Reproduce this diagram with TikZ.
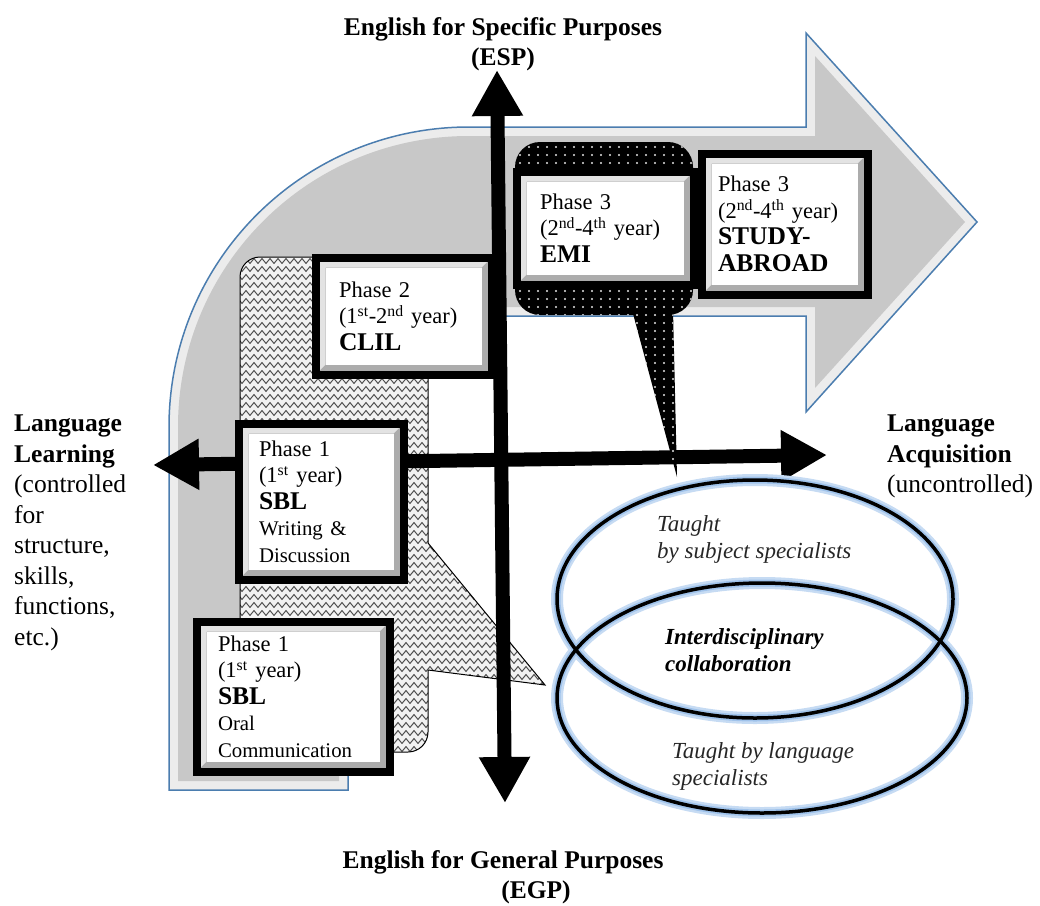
\documentclass[tikz,border=0pt]{standalone}
\usepackage{fontspec}
\setmainfont{Liberation Serif}
\usetikzlibrary{arrows.meta,decorations.pathmorphing}

\definecolor{bentgrey}{RGB}{200,200,200}
\definecolor{bentedge}{RGB}{75,125,175}
\definecolor{glowblue}{RGB}{160,195,235}
\definecolor{wavegrey}{RGB}{80,80,80}

\newcommand{\phasefont}{\fontsize{22.5}{26.5}\selectfont}
\newcommand{\namefont}{\bfseries\fontsize{25.5}{26.5}\selectfont}
\newcommand{\skillfont}{\fontsize{20.8}{26.5}\selectfont}
\newcommand{\labelfont}{\fontsize{25.5}{30.5}\selectfont}
\newcommand{\ovalfont}{\itshape\fontsize{23}{27}\selectfont}

\begin{document}
\begin{tikzpicture}[x=1pt, y=-1pt,
    bevel/.style={path picture={
        \fill[gray!65] (path picture bounding box.south west) rectangle (path picture bounding box.north east);
        \fill[gray!22] (path picture bounding box.south west) -- (path picture bounding box.north west)
            -- (path picture bounding box.north east) -- ([shift={(-10pt,-10pt)}]path picture bounding box.north east)
            -- ([shift={(10pt,-10pt)}]path picture bounding box.north west) -- ([shift={(10pt,10pt)}]path picture bounding box.south west) -- cycle;
        \fill[white] ([shift={(10pt,-10pt)}]path picture bounding box.north west) rectangle ([shift={(-10pt,10pt)}]path picture bounding box.south east);
    }},
    phase/.style={rectangle, draw=black, line width=8pt, inner sep=0pt, align=left, font=\phasefont, bevel},
    axis/.style={line width=14pt, {Triangle[length=46pt,width=48pt]}-{Triangle[length=46pt,width=48pt]}},
    wave/.style={wavegrey, line width=1pt, decorate, decoration={zigzag, segment length=8pt, amplitude=2.4pt}},
    glow/.style={glowblue!60, line width=12pt},
    innerglow/.style={glowblue, line width=7pt},
    oval/.style={black, line width=3.5pt},
    textlabel/.style={font=\labelfont, align=left, anchor=north west, inner sep=0pt}
]
\useasboundingbox (0,0) rectangle (1040,905);

% Bent arrow in the background
\path[fill=gray!15, draw=bentedge, line width=1.5pt] (169,790) -- (169,427) .. controls (169,261) and (303,127) .. (469,127)
    -- (806,127) -- (806,33) -- (977,222) -- (806,412) -- (806,316) -- (348,316) -- (348,790) -- cycle;
\fill[bentgrey] (178,781) -- (178,427) .. controls (178,266) and (308,136) .. (469,136)
    -- (815,136) -- (815,56) -- (965,222) -- (815,388) -- (815,307) -- (339,307) -- (339,781) -- cycle;

% Wavy callout behind phase 1 and 2
\begin{scope}
  \clip[rounded corners=20pt] (240,257) rectangle (428,752);
  \fill[gray!10] (230,250) rectangle (560,760);
  \foreach \y in {261,269,...,749}
    \draw[wave] (236,\y) -- (550,\y);
\end{scope}
\begin{scope}
  \clip (428,543) -- (545,685) -- (428,670) -- cycle;
  \fill[gray!10] (420,530) rectangle (560,700);
  \foreach \y in {541,549,...,685}
    \draw[wave] (236,\y) -- (550,\y);
\end{scope}
\draw[line width=1pt, rounded corners=20pt] (428,543) -- (428,257) -- (240,257) -- (240,752) -- (428,752) -- (428,670);
\draw[line width=1pt] (428,543) -- (545,685) -- (428,670);

% Axes
\coordinate (espTip) at (497,70);
\coordinate (egpTip) at (505,803);
\coordinate (learningTip) at (153,465);
\coordinate (acquisitionTip) at (827,455);
\draw[axis] (learningTip) -- (acquisitionTip);
\draw[axis] (espTip) -- (egpTip);

% Dotted callout behind EMI
\fill[rounded corners=25pt] (515,142) rectangle (693,315);
\fill (632,310) -- (673,310) -- (677,477) -- cycle;
\begin{scope}
  \clip[rounded corners=25pt] (515,142) rectangle (693,315);
  \foreach \x in {520,529,...,691}
    \foreach \y in {147,155,...,315}
      \fill[gray!20] (\x,\y) circle (1.1pt);
\end{scope}
\begin{scope}
  \clip (632,315) -- (673,315) -- (677,477) -- cycle;
  \foreach \x in {628,637,...,682}
    \foreach \y in {315,323,...,475}
      \fill[gray!20] (\x,\y) circle (1.1pt);
\end{scope}

% Phase boxes
\node[phase, minimum width=176pt, minimum height=117pt, text width=129pt] (clil) at (403.5,316)
    {Phase 2\\(1\textsuperscript{st}-2\textsuperscript{nd} year)\\{\namefont CLIL}};
\node[phase, minimum width=177pt, minimum height=113pt, text width=130pt] (emi) at (605,228)
    {Phase 3\\(2\textsuperscript{nd}-4\textsuperscript{th} year)\\{\namefont EMI}};
\node[phase, minimum width=166pt, minimum height=141pt, text width=133pt] (abroad) at (784.5,224)
    {Phase 3\\(2\textsuperscript{nd}-4\textsuperscript{th} year)\\{\namefont STUDY-}\\{\namefont ABROAD}};
\node[phase, minimum width=165pt, minimum height=156pt, text width=124pt] (sblWriting) at (321,501.5)
    {Phase 1\\(1\textsuperscript{st} year)\\{\namefont SBL}\\{\skillfont Writing \&}\\{\skillfont Discussion}};
\node[phase, minimum width=193pt, minimum height=150pt, text width=150pt] (sblOral) at (293,696.5)
    {Phase 1\\(1\textsuperscript{st} year)\\{\namefont SBL}\\{\skillfont Oral}\\{\skillfont Communication}};

% Overlapping ovals
\draw[glow] (755,599) ellipse [x radius=198pt, y radius=119pt];
\draw[glow] (762,698) ellipse [x radius=205pt, y radius=115pt];
\draw[innerglow] (755,599) ellipse [x radius=198pt, y radius=119pt];
\draw[innerglow] (762,698) ellipse [x radius=205pt, y radius=115pt];
\draw[oval] (755,599) ellipse [x radius=198pt, y radius=119pt];
\draw[oval] (762,698) ellipse [x radius=205pt, y radius=115pt];

\node[font=\ovalfont, text=gray!30!black, align=left, anchor=north west, inner sep=0pt] (subjectTxt) at (657,515)
    {Taught\\by subject specialists};
\node[font=\ovalfont\bfseries, align=left, anchor=north west, inner sep=0pt] (collabTxt) at (665,628)
    {Interdisciplinary\\collaboration};
\node[font=\ovalfont, text=gray!30!black, align=left, anchor=north west, inner sep=0pt] (languageTxt) at (672,742)
    {Taught by language\\specialists};

% Axis labels
\node[font=\labelfont\bfseries, align=center, inner sep=0pt] (esp) at (503,44) {English for Specific Purposes\\(ESP)};
\node[font=\labelfont\bfseries, align=center, inner sep=0pt] (egp) at (503,877) {English for General Purposes\\\hspace*{66pt}(EGP)};
\node[textlabel] (learning) at (14,415)
    {\textbf{Language}\\\textbf{Learning}\\(controlled\\for\\structure,\\skills,\\functions,\\etc.)};
\node[textlabel] (acquisition) at (887,415)
    {\textbf{Language}\\\textbf{Acquisition}\\(uncontrolled)};

\end{tikzpicture}
\end{document}
